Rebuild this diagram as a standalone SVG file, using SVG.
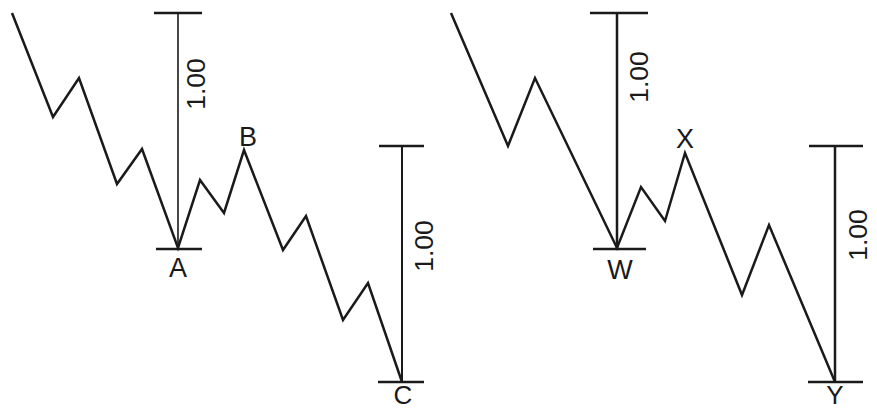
<svg xmlns="http://www.w3.org/2000/svg" width="877" height="410" viewBox="0 0 877 410">
<style>
.wave{fill:none;stroke:#1a1a1a;stroke-width:2.5;stroke-linejoin:miter;stroke-linecap:butt}
.bar{stroke:#1a1a1a;stroke-width:2;fill:none}
.tick{stroke:#1a1a1a;stroke-width:2.5;fill:none}
.lbl{font-family:"Liberation Sans",Arial,sans-serif;font-size:27px;fill:#1a1a1a;text-anchor:middle}
.num{font-size:26.5px}
.low{font-size:26px}
</style>
<rect width="877" height="410" fill="#ffffff"/>
<g id="left-panel">
  <g id="wave-left">
    <polyline class="wave" points="12,13 53,117 79,78 117,184 142,149 178,248 200,180 224,213 244,150 283,250 306,216 343,320 368,283 402,382"/>
  </g>
  <g id="measure-A">
    <line class="bar" x1="178" y1="13" x2="178" y2="249" style="stroke-width:1.6"/>
    <line class="tick" x1="154" y1="13" x2="202" y2="13"/>
    <line class="tick" x1="156" y1="249" x2="202" y2="249"/>
    <text class="lbl num" transform="translate(205,84) rotate(-90)">1.00</text>
  </g>
  <g id="measure-C">
    <line class="bar" x1="402" y1="146" x2="402" y2="382"/>
    <line class="tick" x1="379" y1="146" x2="424" y2="146"/>
    <line class="tick" x1="378" y1="382" x2="424" y2="382"/>
    <text class="lbl num" transform="translate(433,246) rotate(-90)">1.00</text>
  </g>
  <g id="label-A"><text class="lbl" x="178" y="277">A</text></g>
  <g id="label-B"><text class="lbl" x="248" y="146">B</text></g>
  <g id="label-C"><text class="lbl low" x="403" y="404">C</text></g>
</g>
<g id="right-panel">
  <g id="wave-right">
    <polyline class="wave" points="451,13 508,146 535,78 617,248 641,187 665,221 685,153 742,295 769,225 835,382"/>
  </g>
  <g id="measure-W">
    <line class="bar" x1="617" y1="13" x2="617" y2="249" style="stroke-width:2.5"/>
    <line class="tick" x1="590" y1="13" x2="648" y2="13"/>
    <line class="tick" x1="593" y1="249" x2="646" y2="249"/>
    <text class="lbl num" transform="translate(648,77) rotate(-90)">1.00</text>
  </g>
  <g id="measure-Y">
    <line class="bar" x1="835" y1="146" x2="835" y2="382" style="stroke-width:2.5"/>
    <line class="tick" x1="809" y1="146" x2="863" y2="146"/>
    <line class="tick" x1="808" y1="382" x2="863" y2="382"/>
    <text class="lbl num" transform="translate(867,235) rotate(-90)">1.00</text>
  </g>
  <g id="label-W"><text class="lbl" x="620" y="279">W</text></g>
  <g id="label-X"><text class="lbl" x="685" y="148">X</text></g>
  <g id="label-Y"><text class="lbl low" x="835" y="404">Y</text></g>
</g>
</svg>
